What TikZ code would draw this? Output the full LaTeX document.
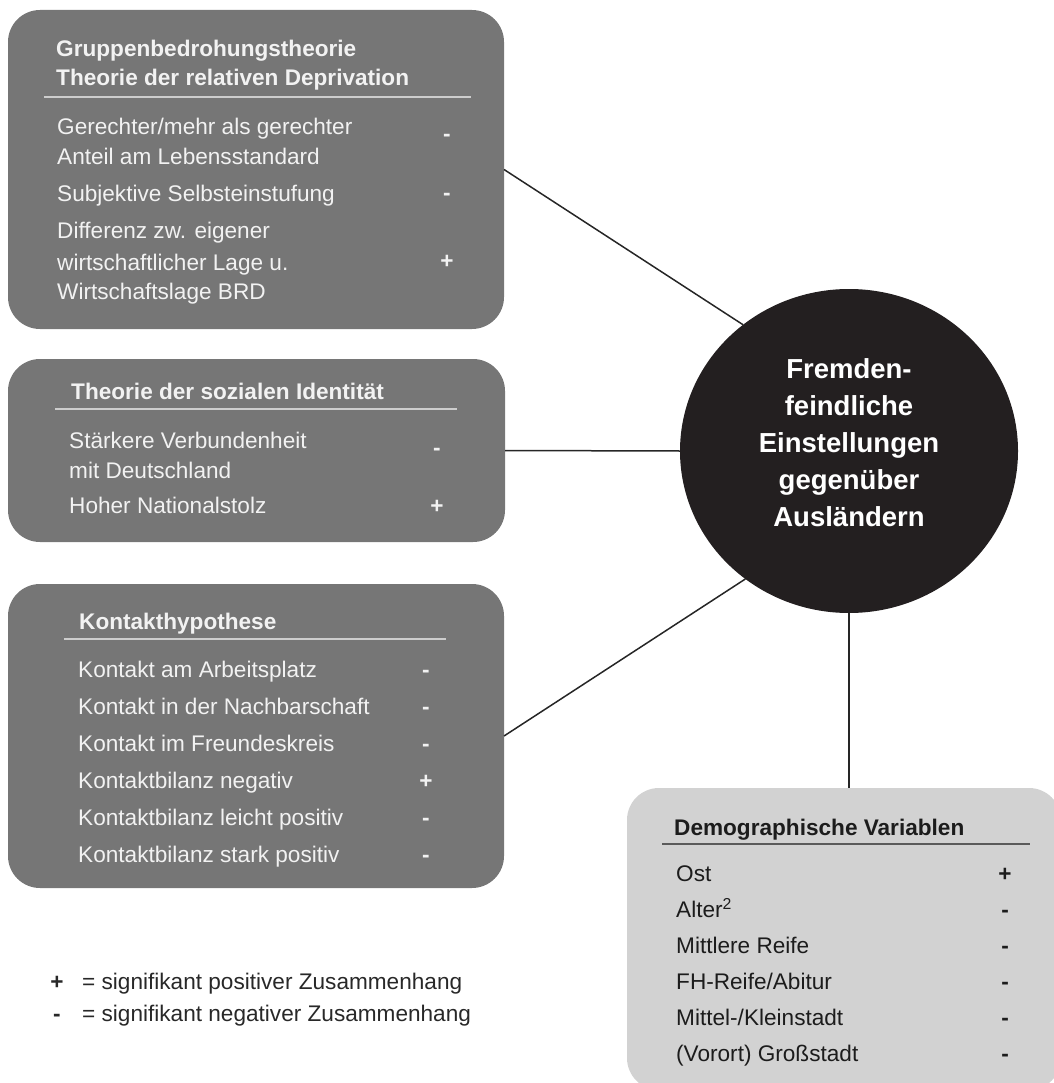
\documentclass[tikz,border=0pt]{standalone}
\usepackage{fontspec}
\setmainfont{Liberation Sans}
\usepackage{tikz}
\usetikzlibrary{shapes.geometric}
\definecolor{GroupBoxGrey}{RGB}{118,118,118}
\definecolor{GroupTextWhite}{RGB}{242,242,242}
\definecolor{GroupRuleGrey}{RGB}{205,205,205}
\definecolor{HubBlack}{RGB}{35,31,32}
\definecolor{DemoBoxGrey}{RGB}{210,210,210}
\definecolor{DemoText}{RGB}{28,28,28}
\definecolor{DemoRuleGrey}{RGB}{90,90,90}
\definecolor{LegendText}{RGB}{40,40,40}

\begin{document}
\begin{tikzpicture}[x=1pt,y=-1pt,font=\fontsize{22.6}{30}\selectfont,
    grp/.style n args={3}{rectangle,fill=#1,minimum width=#2,minimum height=#3,rounded corners=32pt,inner sep=0pt,outer sep=0pt},
    hub/.style={ellipse,fill=HubBlack,minimum width=338pt,minimum height=324pt,inner sep=0pt,outer sep=0pt},
    hubtxt/.style={text=white,font=\fontsize{27.5}{37}\selectfont\bfseries,align=center,inner sep=0pt},
    itm/.style={anchor=base west,inner sep=0pt,text=#1},
    ttl/.style={anchor=base west,inner sep=0pt,text=#1,font=\fontsize{22.6}{30}\selectfont\bfseries},
    sgn/.style={anchor=base,inner sep=0pt,text=#1,font=\fontsize{22.6}{30}\selectfont\bfseries},
    link/.style={draw=black!85,line width=1.5pt}]
    \useasboundingbox (0,0) rectangle (1053,1083);
    % boxes and centre
    \node[grp={GroupBoxGrey}{496pt}{319pt}] (grp) at (256,169.5) {};
    \node[grp={GroupBoxGrey}{497pt}{183pt}] (sid) at (256.5,450.5) {};
    \node[grp={GroupBoxGrey}{496pt}{304pt}] (kon) at (256,736) {};
    \node[grp={DemoBoxGrey}{434pt}{302pt}] (dem) at (844,939) {};
    \node[hub] (fe) at (849,451) {};
    \node[hubtxt] (fetxt) at (849,443) {Fremden-\\feindliche\\Einstellungen\\gegenüber\\Ausländern};
    \draw[link] (grp.east) -- (fe.130);
    \draw[link] (sid.east) -- (fe.west);
    \draw[link] (kon.east) -- (fe.231);
    \draw[link] (fe.south) -- (fe.south |- dem.north);
    % Gruppenbedrohung
    \node[ttl=GroupTextWhite] (grp-t1) at (56,57) {Gruppenbedrohungstheorie};
    \node[ttl=GroupTextWhite] (grp-t2) at (56,86) {Theorie der relativen Deprivation};
    \draw[GroupRuleGrey,line width=1.2pt] (44,97) -- (471,97);
    \foreach \y/\t [count=\i] in %
    {135/{Gerechter/mehr als gerechter},165/Anteil am Lebensstandard,202/Subjektive Selbsteinstufung,
     239/Differenz zw. eigener,270/wirtschaftlicher Lage u.,299/Wirtschaftslage BRD} {
       \node[itm=GroupTextWhite] (grp-l\i) at (57,\y) {\t};
    }
    \foreach \y/\s [count=\i] in {142/-,201/-,268/+} {
       \node[sgn=GroupTextWhite] (grp-s\i) at (447,\y) {\s};
    }
    % soziale Identitaet
    \node[ttl=GroupTextWhite] (sid-t) at (71,399) {Theorie der sozialen Identität};
    \draw[GroupRuleGrey,line width=1.2pt] (55,409) -- (457,409);
    \foreach \y/\t [count=\i] in %
    {448/Stärkere Verbundenheit,478/mit Deutschland,513/Hoher Nationalstolz} {
       \node[itm=GroupTextWhite] (sid-l\i) at (69,\y) {\t};
    }
    \foreach \y/\s [count=\i] in {455/-,513/+} {
       \node[sgn=GroupTextWhite] (sid-s\i) at (437,\y) {\s};
    }
    % Kontakt
    \node[ttl=GroupTextWhite] (kon-t) at (79,629) {Kontakthypothese};
    \draw[GroupRuleGrey,line width=1.2pt] (64,639) -- (446,639);
    \foreach \t/\s [count=\i] in %
    {Kontakt am Arbeitsplatz/-,Kontakt in der Nachbarschaft/-,Kontakt im Freundeskreis/-,
     Kontaktbilanz negativ/+,Kontaktbilanz leicht positiv/-,Kontaktbilanz stark positiv/-} {
       \node[itm=GroupTextWhite] (kon-l\i) at (78,640+37*\i) {\t};
       \node[sgn=GroupTextWhite] (kon-s\i) at (426,640+37*\i) {\s};
    }
    % Demographie
    \node[ttl=DemoText] (dem-t) at (674,835) {Demographische Variablen};
    \draw[DemoRuleGrey,line width=2pt] (662,844) -- (1030,844);
    \foreach \t/\s [count=\i] in %
    {Ost/+,Alter\textsuperscript{2}/-,Mittlere Reife/-,{FH-Reife/Abitur}/-,
     {Mittel-/Kleinstadt}/-,(Vorort) Großstadt/-} {
       \node[itm=DemoText] (dem-l\i) at (676,845+36*\i) {\t};
       \node[sgn=DemoText] (dem-s\i) at (1005,845+36*\i) {\s};
    }
    % legend
    \node[sgn=LegendText] (lg-s1) at (57,989) {+};
    \node[itm=LegendText] (lg-t1) at (82,989) {= signifikant positiver Zusammenhang};
    \node[sgn=LegendText] (lg-s2) at (57,1021) {-};
    \node[itm=LegendText] (lg-t2) at (82,1021) {= signifikant negativer Zusammenhang};
\end{tikzpicture}
\end{document}
